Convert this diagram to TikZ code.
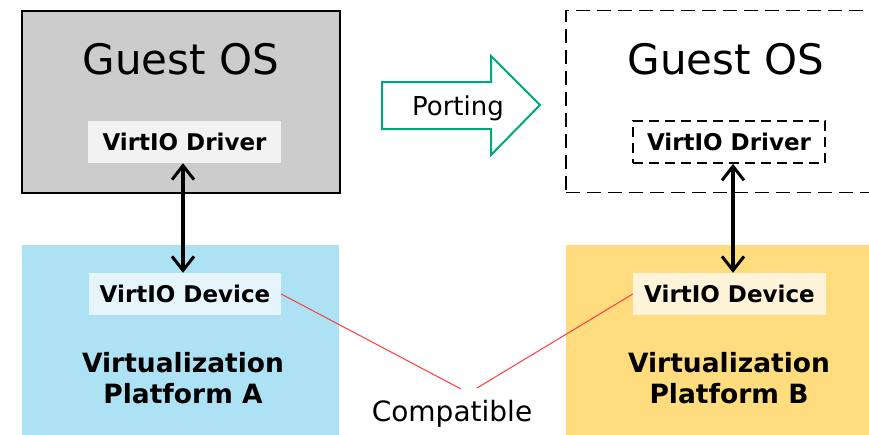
\documentclass[tikz,border=0pt]{standalone}
\usepackage{fontspec}
\setmainfont{DejaVu Sans}
\usetikzlibrary{arrows.meta}
\definecolor{osgray}{HTML}{CCCCCC}
\definecolor{drvgray}{HTML}{F2F2F2}
\definecolor{platblue}{HTML}{ADE1F4}
\definecolor{devblue}{HTML}{E6F5FC}
\definecolor{platyellow}{HTML}{FFDD7E}
\definecolor{devyellow}{HTML}{FFF4DA}
\definecolor{portgreen}{RGB}{0,166,126}
\definecolor{compred}{RGB}{255,60,60}
\tikzset{
  osbox/.style={rectangle, line width=1.5pt, minimum width=318pt, minimum height=182pt, inner sep=0pt},
  smallbox/.style={rectangle, minimum width=193pt, minimum height=42pt, inner sep=0pt, text height=17pt, text depth=0pt, font=\bfseries\fontsize{23}{27}\selectfont},
  bigtext/.style={font=\fontsize{42}{48}\selectfont, inner sep=0pt, anchor=base},
  plattext/.style={font=\bfseries\fontsize{26.5}{31}\selectfont, align=center, inner sep=0pt},
  link/.style={line width=3.5pt, {Straight Barb[length=14pt,width=22pt,line width=3pt]}-{Straight Barb[length=14pt,width=22pt,line width=3pt]}},
  compline/.style={draw=compred, line width=1pt}
}
\begin{document}
\begin{tikzpicture}[x=1pt,y=-1pt]
\useasboundingbox (0,0) rectangle (869,434);
\clip (0,0) rectangle (869,434);
% Guest OS A
\node[osbox, draw=black, fill=osgray] (gA) at (181,102) {};
\node[bigtext] (osA) at (181,74) {Guest OS};
\node[smallbox, fill=drvgray] (drvA) at (184.5,142) {VirtIO Driver};
% Guest OS B (dashed)
\node[osbox, draw=black, line width=1.8pt, dash pattern=on 14pt off 7pt, minimum width=320pt] (gB) at (726,101.5) {};
\node[bigtext] (osB) at (726,74) {Guest OS};
\node[smallbox, draw=black, line width=1.8pt, dash pattern=on 10pt off 6pt, minimum width=192pt] (drvB) at (729,142) {VirtIO Driver};
% Porting arrow
\draw[portgreen, line width=2pt, line join=miter] (382,82) -- (491,82) -- (491,56) -- (540,105) -- (491,155) -- (491,129) -- (382,129) -- cycle;
\node[font=\fontsize{26}{30}\selectfont, inner sep=0pt, anchor=base] (port) at (458,115) {Porting};
% Platform A
\node[rectangle, fill=platblue, minimum width=317pt, minimum height=195pt, inner sep=0pt] (platA) at (180.5,342.5) {};
\node[smallbox, fill=devblue, minimum width=192pt] (devA) at (185,294) {VirtIO Device};
\node[plattext] (ptA) at (183,378) {Virtualization\\Platform A};
% Platform B
\node[rectangle, fill=platyellow, minimum width=320pt, minimum height=195pt, inner sep=0pt] (platB) at (726,342.5) {};
\node[smallbox, fill=devyellow] (devB) at (729.5,294) {VirtIO Device};
\node[plattext] (ptB) at (729,378) {Virtualization\\Platform B};
% links
\draw[link] ([xshift=-1.5pt]drvA.south) -- ([xshift=-2pt]devA.north);
\draw[link] ([xshift=4pt]drvB.south) -- ([xshift=3.5pt]devB.north);
% compatible
\node[font=\fontsize{28}{33}\selectfont, inner sep=0pt, anchor=base] (comp) at (452,421) {Compatible};
\coordinate (cL) at (461,389);
\coordinate (cR) at (477,388);
\draw[compline] (devA.east) -- (cL);
\draw[compline] (devB.west) -- (cR);
\end{tikzpicture}
\end{document}
